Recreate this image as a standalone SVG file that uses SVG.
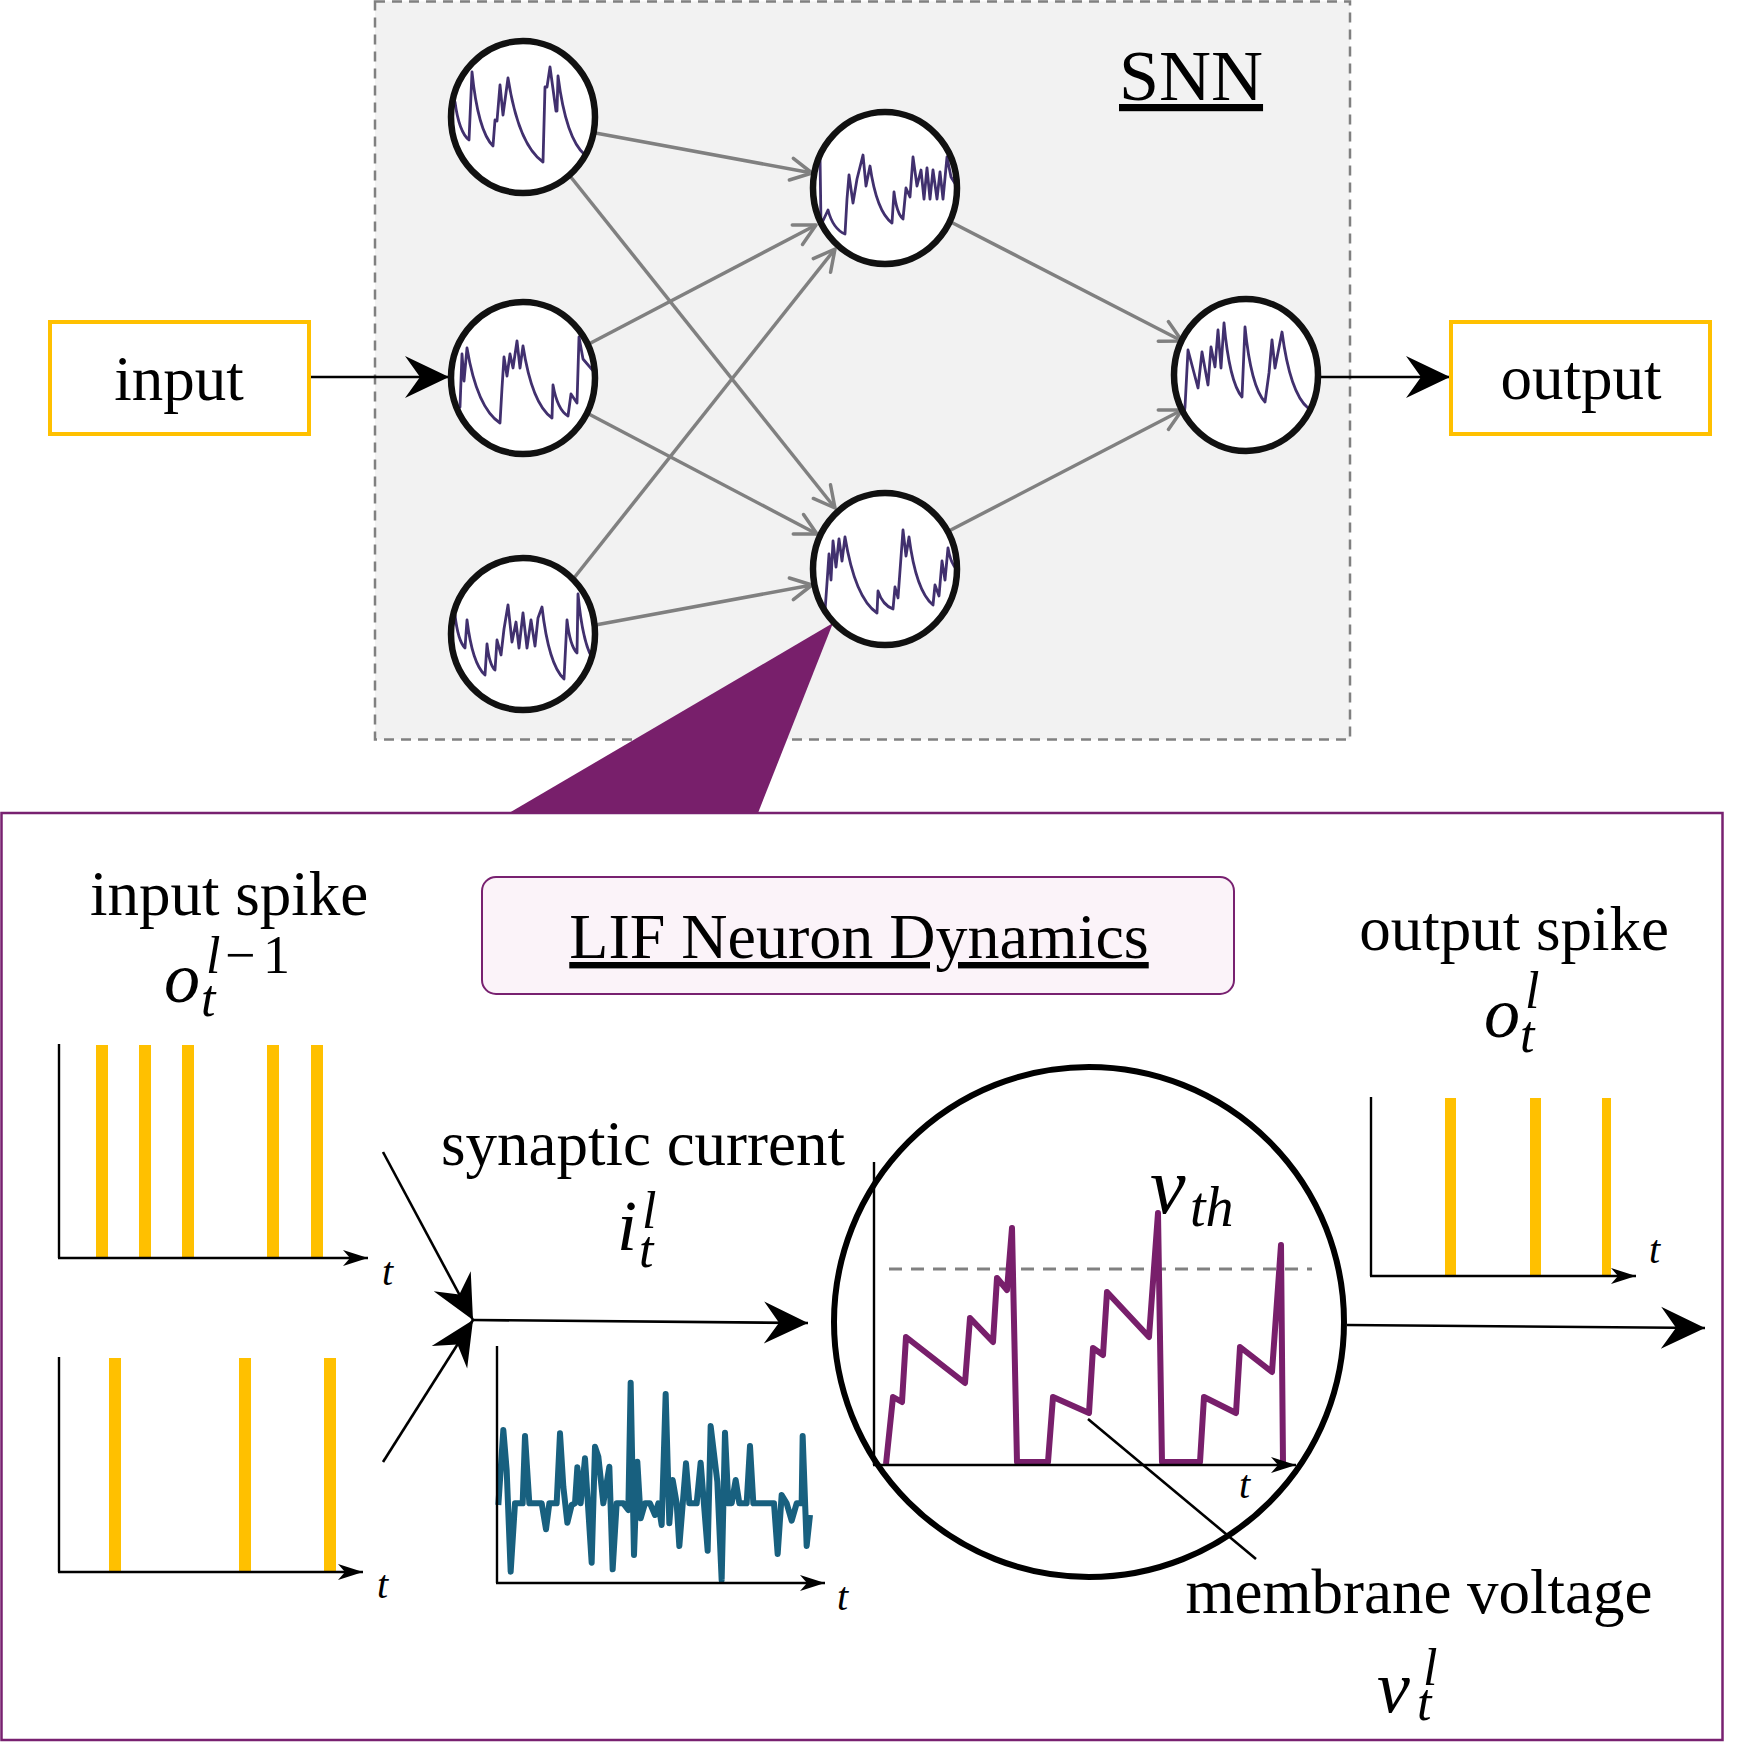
<svg xmlns="http://www.w3.org/2000/svg" width="1753" height="1742" viewBox="0 0 1753 1742">
<style>
.lbl{font-family:"Liberation Serif","Times New Roman",serif;font-size:63px;fill:#000}
.m{font-family:"Liberation Serif","Times New Roman",serif;font-style:italic;fill:#000}
.r{font-family:"Liberation Serif","Times New Roman",serif;fill:#000}
.nfill{fill:#fff;stroke:none}
.nstroke{fill:none;stroke:#111;stroke-width:6.5}
.trace{fill:none;stroke:#41306e;stroke-width:2.8;stroke-linejoin:round}
.gray{stroke:#808080;stroke-width:3.5;fill:none}
.blk{stroke:#000;stroke-width:2.6;fill:none}
.axis{stroke:#000;stroke-width:2.4;fill:none}
.bar{fill:#FFC000}
.ybox{fill:#fff;stroke:#FFC000;stroke-width:4}
</style>
<defs>
<marker id="big" markerUnits="userSpaceOnUse" markerWidth="50" markerHeight="50" viewBox="-46 -25 50 50" refX="0" refY="0" orient="auto" overflow="visible"><path d="M0,0 L-44,-21 L-29,0 L-44,21 Z" fill="#000"/></marker>
<marker id="small" markerUnits="userSpaceOnUse" markerWidth="30" markerHeight="20" viewBox="-27 -10 30 20" refX="0" refY="0" orient="auto" overflow="visible"><path d="M0,0 L-25,-8 L-18,0 L-25,8 Z" fill="#000"/></marker>
<marker id="open" markerUnits="userSpaceOnUse" markerWidth="30" markerHeight="30" viewBox="-25 -15 30 30" refX="0" refY="0" orient="auto" overflow="visible"><path d="M-21,-11 L0,0 L-21,11" fill="none" stroke="#808080" stroke-width="3.5" stroke-linecap="round" stroke-linejoin="round"/></marker>
<clipPath id="nclip"><ellipse cx="0" cy="0" rx="71" ry="75"/></clipPath>
</defs>

<g id="snn-box">
<rect x="375" y="1.5" width="975" height="738" fill="#f2f2f2" stroke="#808080" stroke-width="2.5" stroke-dasharray="10 7"/>
<text class="r" x="1119" y="100" font-size="72" text-decoration="underline">SNN</text>
</g>

<g id="lif-panel">
<rect x="1.5" y="813" width="1721" height="927" fill="#fff" stroke="#782170" stroke-width="2.5"/>
</g>

<g id="zoom-callout">
<polygon points="833,623 509,813 758,813" fill="#781f6b"/>
</g>

<g id="lif-title">
<rect x="482" y="877" width="752" height="117" rx="14" ry="14" fill="#fbf3f9" stroke="#782170" stroke-width="2"/>
<text class="r" x="859" y="958" font-size="64" text-anchor="middle" text-decoration="underline">LIF Neuron Dynamics</text>
</g>

<g id="connectors">
<line class="gray" x1="590" y1="132" x2="812" y2="173" marker-end="url(#open)"/>
<line class="gray" x1="570" y1="176" x2="835" y2="508" marker-end="url(#open)"/>
<line class="gray" x1="585" y1="346" x2="816" y2="225" marker-end="url(#open)"/>
<line class="gray" x1="585" y1="412" x2="817" y2="534" marker-end="url(#open)"/>
<line class="gray" x1="570" y1="583" x2="835" y2="249" marker-end="url(#open)"/>
<line class="gray" x1="590" y1="626" x2="812" y2="585" marker-end="url(#open)"/>
<line class="gray" x1="945" y1="219" x2="1182" y2="341" marker-end="url(#open)"/>
<line class="gray" x1="945" y1="533" x2="1182" y2="410" marker-end="url(#open)"/>
<line class="blk" x1="309" y1="377" x2="449" y2="377" marker-end="url(#big)"/>
<line class="blk" x1="1321" y1="377" x2="1450" y2="377" marker-end="url(#big)"/>
<line class="blk" x1="383" y1="1152" x2="473" y2="1320" marker-end="url(#big)"/>
<line class="blk" x1="383" y1="1462" x2="473" y2="1320" marker-end="url(#big)"/>
<line class="blk" x1="473" y1="1320" x2="808" y2="1323" marker-end="url(#big)"/>
<line class="blk" x1="1347" y1="1325" x2="1705" y2="1328" marker-end="url(#big)"/>
<line class="blk" x1="1088" y1="1419" x2="1256" y2="1559" stroke-width="2.2"/>
</g>

<g id="input">
<rect class="ybox" x="50" y="322" width="259" height="112"/>
<text class="lbl" x="179" y="400" text-anchor="middle">input</text>
</g>
<g id="output">
<rect class="ybox" x="1451" y="322" width="259" height="112"/>
<text class="lbl" x="1581" y="399" text-anchor="middle">output</text>
</g>

<g id="n1" transform="translate(523,117)">
<ellipse class="nfill" rx="72" ry="76"/>
<path class="trace" clip-path="url(#nclip)" d="M-75,-25 L-68,-15 Q-64,15 -54,23 L-51,-45 Q-45,14 -30,29 L-28,3 L-26,4 L-23,-32 L-20,-2 L-15,-39 Q-4.5,28 20,45 L22,-30 L24,-30 L27,-50 L33,-6 L34,-6 L35,-41 Q43,22 62,38 L72,50"/>
<ellipse class="nstroke" rx="72" ry="76"/>
</g>
<g id="n2" transform="translate(523,378)">
<ellipse class="nfill" rx="72" ry="76"/>
<path class="trace" clip-path="url(#nclip)" d="M-72,35 L-63,29 L-61,-24 L-59,3 L-56,-30 Q-46,30 -23,45 L-21,10 L-19,-21 L-16,-2 L-13,-24 L-10,-10 L-6,-37 L-3,-10 L0,-32 Q9,26 29,40 L30,7 Q34.5,32 45,38 L48,16 L54,25 L56,-41 L60,-19 L72,-5"/>
<ellipse class="nstroke" rx="72" ry="76"/>
</g>
<g id="n3" transform="translate(523,634)">
<ellipse class="nfill" rx="72" ry="76"/>
<path class="trace" clip-path="url(#nclip)" d="M-72,-25 L-68,-19 Q-65,7 -58,14 L-56,-14 Q-50.6,30 -38,41 L-36,10 Q-33.6,31 -28,36 L-26,6 L-22,21 L-19,-5 L-15,-29 L-11,8 L-7,-12 L-4,14 L0,-21 L4,14 L8,-14 L12,12 L15,-16 L19,-27 Q25.6,30.6 41,45 L44,-14 Q47,12 54,19 L55,-40 Q60,14 72,28"/>
<ellipse class="nstroke" rx="72" ry="76"/>
</g>
<g id="n4" transform="translate(885,188)">
<ellipse class="nfill" rx="72" ry="76"/>
<path class="trace" clip-path="url(#nclip)" d="M-65,-33 L-64,37 L-57,22 Q-52,41 -40,46 L-38,11 L-36,-13 L-32,15 L-28,-9 L-22,-33 L-19,-2 L-15,-22 Q-8.4,23.6 7,35 L9,4 Q11.7,25.6 18,31 L21,0 L25,9 L28,-31 L32,-2 L36,-18 L39,11 L42,-20 L45,11 L48,-18 L52,11 L55,-16 L58,11 L62,-31 L66,-11 L74,2"/>
<ellipse class="nstroke" rx="72" ry="76"/>
</g>
<g id="n5" transform="translate(885,569)">
<ellipse class="nfill" rx="72" ry="76"/>
<path class="trace" clip-path="url(#nclip)" d="M-62,50 L-60,42 L-58,14 L-56,-15 L-54,11 L-52,-28 L-49,-2 L-46,-30 L-43,-8 L-40,-32 Q-30,29 -8,44 L-7,22 Q-2.5,36 8,40 L10,18 L13,29 L18,-39 L21,-13 L24,-32 Q31,22 48,36 L50,16 L54,27 L57,-8 L60,11 L63,-21 Q66,-3 74,2"/>
<ellipse class="nstroke" rx="72" ry="76"/>
</g>
<g id="n6" transform="translate(1246,375)">
<ellipse class="nfill" rx="72" ry="76"/>
<path class="trace" clip-path="url(#nclip)" d="M-62,40 L-61,32 L-58,-25 L-48,13 L-44,-23 L-38,10 L-35,-28 L-31,-8 L-28,-45 L-25,-7 L-22,-52 Q-16.6,7 -4,22 L-1,-48 Q5,12 19,27 L23,-2 L26,-35 L29,-7 L36,-43 Q44,18 62,33 L70,45"/>
<ellipse class="nstroke" rx="72" ry="76"/>
</g>

<g id="input-spike">
<text class="lbl" x="229" y="915" text-anchor="middle">input spike</text>
<text class="m" x="164" y="1002" font-size="72">o</text>
<text class="m" x="201" y="1016" font-size="52">t</text>
<text class="m" x="206" y="973" font-size="52">l</text>
<text class="r" x="225" y="973" font-size="54">−</text>
<text class="r" x="263" y="973" font-size="54">1</text>
<rect class="bar" x="96" y="1045" width="12" height="213"/>
<rect class="bar" x="139" y="1045" width="12" height="213"/>
<rect class="bar" x="182" y="1045" width="12" height="213"/>
<rect class="bar" x="267" y="1045" width="12" height="213"/>
<rect class="bar" x="311" y="1045" width="12" height="213"/>
<line class="axis" x1="59" y1="1044" x2="59" y2="1258"/>
<line class="axis" x1="58" y1="1258" x2="368" y2="1258" marker-end="url(#small)"/>
<text class="m" x="382" y="1285" font-size="40">t</text>
</g>

<g id="input-spike-2">
<rect class="bar" x="109" y="1358" width="12" height="214"/>
<rect class="bar" x="239" y="1358" width="12" height="214"/>
<rect class="bar" x="324" y="1358" width="12" height="214"/>
<line class="axis" x1="59" y1="1357" x2="59" y2="1572"/>
<line class="axis" x1="58" y1="1572" x2="363" y2="1572" marker-end="url(#small)"/>
<text class="m" x="377" y="1598" font-size="40">t</text>
</g>

<g id="synaptic-current">
<text class="lbl" x="643" y="1165" text-anchor="middle">synaptic current</text>
<text class="m" x="617" y="1250" font-size="72">i</text>
<text class="m" x="639" y="1267" font-size="52">t</text>
<text class="m" x="642" y="1228" font-size="52">l</text>
<polyline transform="translate(480,1330) scale(0.33333)" fill="none" stroke="#18607f" stroke-width="18" stroke-linejoin="round" points="55,525 70,300 80,420 92,725 105,520 128,520 135,318 148,520 185,520 198,598 208,520 230,520 240,310 250,470 262,578 275,525 285,520 292,412 302,520 315,385 335,698 345,350 355,380 370,520 388,410 398,718 410,520 430,520 445,540 452,158 462,675 472,395 482,565 495,520 510,520 525,555 535,520 545,585 557,192 568,580 578,450 590,520 598,648 618,400 628,520 650,520 662,398 683,662 692,288 712,455 725,750 735,308 745,520 755,520 767,450 778,520 800,520 810,348 820,520 882,520 893,672 905,495 920,520 935,572 950,520 965,520 968,318 980,648 990,555"/>
<line class="axis" x1="497" y1="1346" x2="497" y2="1583"/>
<line class="axis" x1="496" y1="1583" x2="825" y2="1583" marker-end="url(#small)"/>
<text class="m" x="837" y="1610" font-size="40">t</text>
</g>

<g id="membrane">
<circle cx="1089" cy="1322" r="255" fill="none" stroke="#000" stroke-width="6"/>
<line x1="889" y1="1269" x2="1312" y2="1269" stroke="#808080" stroke-width="3" stroke-dasharray="13 9"/>
<polyline fill="none" stroke="#781f6b" stroke-width="6" stroke-linejoin="round" points="886,1464 893,1397 902,1402 906,1337 965,1383 970,1318 993,1342 997,1278 1007,1290 1012,1228 1017,1462 1048,1462 1053,1397 1089,1413 1093,1348 1103,1355 1107,1292 1149,1337 1158,1213 1162,1462 1200,1462 1204,1397 1236,1413 1240,1347 1272,1372 1281,1245 1283,1463"/>
<line class="axis" x1="874" y1="1162" x2="874" y2="1465"/>
<line class="axis" x1="873" y1="1465" x2="1296" y2="1465" marker-end="url(#small)"/>
<text class="m" x="1239" y="1498" font-size="40">t</text>
<text class="m" x="1150" y="1213" font-size="80">v</text>
<text class="m" x="1190" y="1226" font-size="56">th</text>
<text class="lbl" x="1419" y="1613" text-anchor="middle">membrane voltage</text>
<text class="m" x="1377" y="1712" font-size="74">v</text>
<text class="m" x="1417" y="1720" font-size="52">t</text>
<text class="m" x="1423" y="1685" font-size="52">l</text>
</g>

<g id="output-spike">
<text class="lbl" x="1514" y="950" text-anchor="middle">output spike</text>
<text class="m" x="1484" y="1037" font-size="72">o</text>
<text class="m" x="1520" y="1052" font-size="52">t</text>
<text class="m" x="1525" y="1008" font-size="52">l</text>
<rect class="bar" x="1445" y="1098" width="11" height="178"/>
<rect class="bar" x="1530" y="1098" width="11" height="178"/>
<rect class="bar" x="1602" y="1098" width="9" height="178"/>
<line class="axis" x1="1371" y1="1097" x2="1371" y2="1276"/>
<line class="axis" x1="1370" y1="1276" x2="1636" y2="1276" marker-end="url(#small)"/>
<text class="m" x="1649" y="1263" font-size="40">t</text>
</g>
</svg>
